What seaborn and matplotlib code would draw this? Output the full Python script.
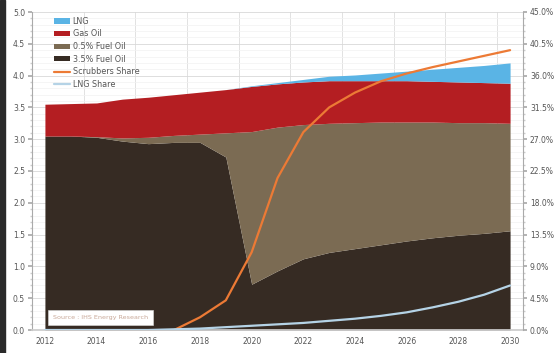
import numpy as np
import pandas as pd
import matplotlib
matplotlib.use("Agg")
import matplotlib.pyplot as plt
from matplotlib.ticker import MultipleLocator, FuncFormatter
import seaborn as sns

years = list(range(2012, 2031))
fo35 = [3.05, 3.05, 3.03, 2.97, 2.93, 2.95, 2.95, 2.72, 0.72, 0.93, 1.12, 1.22, 1.28, 1.34, 1.40, 1.45, 1.49, 1.52, 1.56]
fo05 = [0.00, 0.00, 0.01, 0.05, 0.10, 0.11, 0.13, 0.38, 2.40, 2.26, 2.11, 2.03, 1.98, 1.93, 1.87, 1.82, 1.77, 1.74, 1.69]
gas_oil = [0.50, 0.51, 0.53, 0.61, 0.63, 0.64, 0.66, 0.68, 0.71, 0.68, 0.67, 0.67, 0.66, 0.65, 0.65, 0.64, 0.64, 0.63, 0.63]
lng = [0, 0, 0, 0, 0, 0, 0, 0, 0.01, 0.02, 0.04, 0.07, 0.09, 0.12, 0.15, 0.19, 0.23, 0.27, 0.32]
scrubbers_share = [np.nan, np.nan, np.nan, np.nan, np.nan, 0.0, 1.8, 4.2, 11.0, 21.5, 28.0, 31.5, 33.6, 35.2, 36.3, 37.2, 38.0, 38.8, 39.6]
lng_share = [0, 0, 0, 0, 0, 0.1, 0.2, 0.4, 0.6, 0.8, 1.0, 1.3, 1.6, 2.0, 2.5, 3.2, 4.0, 5.0, 6.3]
left_ticks = [0.0, 0.5, 1.0, 1.5, 2.0, 2.5, 3.0, 3.5, 4.0, 4.5, 5.0]
right_ticks = [0.0, 4.5, 9.0, 13.5, 18.0, 22.5, 27.0, 31.5, 36.0, 40.5, 45.0]
xtick_years = [2012, 2014, 2016, 2018, 2020, 2022, 2024, 2026, 2028, 2030]

c_lng = "#5ab4e5"
c_gas = "#b41e22"
c_fo05 = "#7b6b53"
c_fo35 = "#362b23"
c_scrub = "#ec7a35"
c_lngs = "#b5d3e6"

sns.set_theme(style="white")
plt.rcParams['font.family'] = ['DejaVu Sans']

fig = plt.figure(figsize=(5.6, 3.53), dpi=100)
ax = fig.add_axes([32/560, 1-330/353, (523-32)/560, (330-12)/353])

ax.stackplot(years, fo35, fo05, gas_oil, lng,
             colors=[c_fo35, c_fo05, c_gas, c_lng],
             labels=["3.5% Fuel Oil", "0.5% Fuel Oil", "Gas Oil", "LNG"],
             linewidth=0, zorder=2)
ax.set_xlim(2011.5, 2030.5)
ax.set_ylim(0, 5)
ax.set_yticks(left_ticks)
ax.yaxis.set_major_formatter(FuncFormatter(lambda v, p: f"{v:.1f}"))
ax.yaxis.set_minor_locator(MultipleLocator(0.1))
ax.set_xticks(xtick_years)
ax.set_xticks([y + 0.5 for y in range(2011, 2030, 2)], minor=True)
ax.grid(which="major", axis="y", color="#d8d8d8", lw=0.6, zorder=0)
ax.grid(which="minor", axis="y", color="#f2f2f2", lw=0.5, zorder=0)
ax.grid(which="minor", axis="x", color="#dddddd", lw=0.6, zorder=0)
ax.set_axisbelow(True)
ax.tick_params(axis="both", which="major", labelsize=5.5, labelcolor="#555555", length=3, color="#aaaaaa", pad=2)
ax.tick_params(axis="y", which="minor", length=1.5, color="#cccccc", left=True)
ax.tick_params(axis="x", which="minor", length=0)
for s in ["top", "right"]:
    ax.spines[s].set_visible(False)
ax.spines["left"].set_color("#aaaaaa")
ax.spines["bottom"].set_color("#cccccc")
ax.spines["left"].set_linewidth(0.8)

ax2 = ax.twinx()
df = pd.DataFrame({"year": years, "Scrubbers Share": scrubbers_share, "LNG Share": lng_share})
sns.lineplot(data=df, x="year", y="Scrubbers Share", ax=ax2, color=c_scrub, lw=1.6, label="Scrubbers Share", legend=False)
sns.lineplot(data=df, x="year", y="LNG Share", ax=ax2, color=c_lngs, lw=1.6, label="LNG Share", legend=False)
ax2.set_ylim(0, 45)
ax2.set_yticks(right_ticks)
ax2.yaxis.set_major_formatter(FuncFormatter(lambda v, p: f"{v:.1f}%"))
ax2.yaxis.set_minor_locator(MultipleLocator(0.9))
ax2.tick_params(axis="y", which="major", labelsize=5.5, labelcolor="#555555", length=3, color="#aaaaaa", pad=2)
ax2.tick_params(axis="y", which="minor", length=1.5, color="#cccccc", right=True)
ax2.set_xlabel("")
ax2.set_ylabel("")
ax.set_xlabel("")
ax.set_ylabel("")
for s in ["top", "left", "bottom"]:
    ax2.spines[s].set_visible(False)
ax2.spines["right"].set_color("#aaaaaa")
ax2.spines["right"].set_linewidth(0.8)
ax2.grid(False)

h1, l1 = ax.get_legend_handles_labels()
h2, l2 = ax2.get_legend_handles_labels()
handles = [h1[3], h1[2], h1[1], h1[0], h2[0], h2[1]]
labels = [l1[3], l1[2], l1[1], l1[0], l2[0], l2[1]]
leg = ax2.legend(handles, labels, loc="upper left", bbox_to_anchor=(0.035, 1.0), frameon=False,
                 fontsize=5.8, labelcolor="#555555", handlelength=2.0, handleheight=0.6,
                 labelspacing=0.45, borderaxespad=0.2, handletextpad=0.3)

ax2.text(2012.3, 0.16, "Source : IHS Energy Research", transform=ax.transData,
         fontsize=4.6, color="#c8a898", va="bottom", ha="left", zorder=5,
         bbox=dict(boxstyle="square,pad=0.8", fc="white", ec="#dddddd", lw=0.4))

fig.patches.append(plt.Rectangle((0, 0), 5/560, 1, transform=fig.transFigure, color="#2a2a2a", zorder=10))

fig.savefig("out.png", dpi=100)
